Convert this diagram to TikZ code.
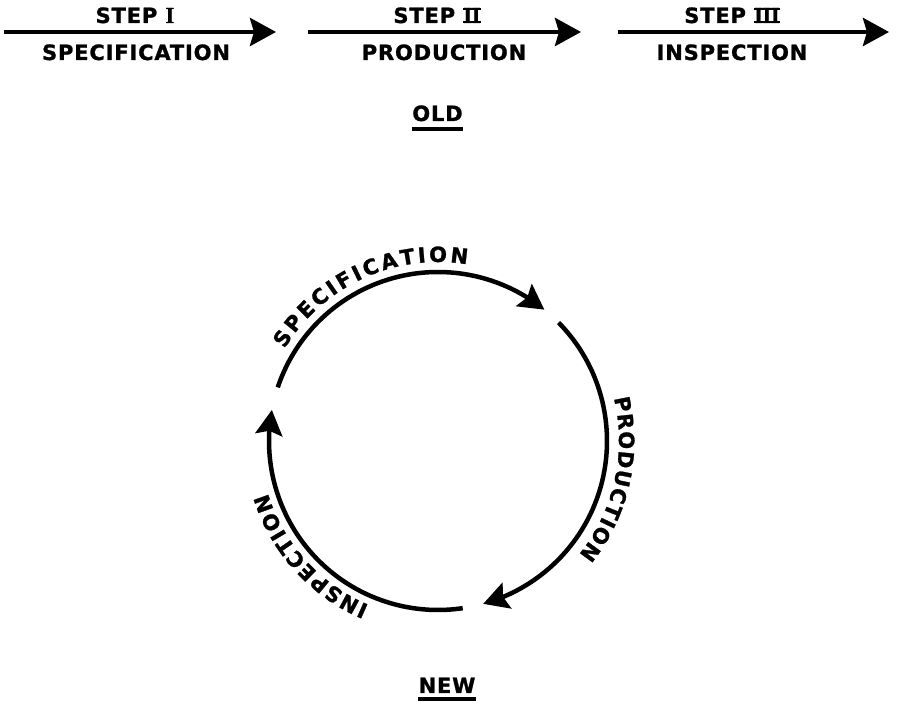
\documentclass[tikz,border=0pt]{standalone}
\usepackage{fontspec}
\usetikzlibrary{arrows.meta,bending,decorations.text}
\newfontfamily\lettering{DejaVu Sans}[LetterSpace=4, BoldFeatures={FakeBold=1.2}]
\newfontfamily\arcfont{DejaVu Sans}[BoldFeatures={FakeBold=1.2}]
\newfontfamily\numfont{Liberation Serif}[BoldFeatures={FakeBold=1}]
\newcommand\romnum[1]{\begingroup\setbox0=\hbox{\numfont\bfseries\fontsize{23}{23}\selectfont #1}%
\rlap{\rule{\wd0}{2pt}}\rlap{\raisebox{\dimexpr\ht0-2pt\relax}{\rule{\wd0}{2pt}}}\box0\endgroup}
\newcommand\romone{{\numfont\bfseries\fontsize{23}{23}\selectfont I}}
\begin{document}
\begin{tikzpicture}[x=1pt,y=1pt,
  lbl/.style={font=\lettering\bfseries\fontsize{21}{21}\selectfont, inner sep=0pt, anchor=base},
  flow/.style={line width=4.5pt, -{Stealth[length=26pt,width=28pt,inset=4pt]}},
  cyc/.style={line width=4.5pt, -{Stealth[length=25pt,width=27pt,inset=4pt]}},
  arclbl/.style={decorate, decoration={text along path, text align={fit to path},
     text={|\arcfont\bfseries\fontsize{21}{21}\selectfont|#1}}},
  uline/.style={line width=4pt}
]
\useasboundingbox (0,0) rectangle (900,706);
% ---- OLD: linear flow ----
\coordinate (a1s) at (4,674);   \coordinate (a1e) at (276,674);
\coordinate (a2s) at (308,674); \coordinate (a2e) at (581,674);
\coordinate (a3s) at (618,674); \coordinate (a3e) at (889,674);
\draw[flow] (a1s) -- (a1e);
\draw[flow] (a2s) -- (a2e);
\draw[flow] (a3s) -- (a3e);
\node[lbl] (st1) at (135,683) {STEP \romone};
\node[lbl] (sp1) at (136,646) {SPECIFICATION};
\node[lbl] (st2) at (437,683) {STEP \romnum{I\kern-0.6pt I}};
\node[lbl] (sp2) at (444,646) {PRODUCTION};
\node[lbl] (st3) at (732,683) {STEP \romnum{I\kern-0.6pt I\kern-0.6pt I}};
\node[lbl] (sp3) at (732,646) {INSPECTION};
\node[lbl] (old) at (437.5,585) {OLD};
\draw[uline] ([yshift=-7.7pt]old.base west) -- ([yshift=-7.7pt]old.base east);
% ---- NEW: cycle ----
\coordinate (C) at (438,265);
\draw[cyc, shift={(C)}] (161.5:169) arc[start angle=161.5, end angle=51, radius=169];
\draw[cyc, shift={(C)}] (44.5:169) arc[start angle=44.5, end angle=-74.5, radius=169];
\draw[cyc, shift={(C)}] (-81.6:169) arc[start angle=-81.6, end angle=-190.6, radius=169];
\path[arclbl=SPECIFICATION, shift={(C)}] (149:179) arc[start angle=149, end angle=80.6, radius=179];
\path[arclbl=PRODUCTION, shift={(C)}] (13.7:181) arc[start angle=13.7, end angle=-38.9, radius=181];
\path[arclbl=INSPECTION, shift={(C)}] (-112.8:178) arc[start angle=-112.8, end angle=-163, radius=178];
\node[lbl] (new) at (447,13) {NEW};
\draw[uline] ([yshift=-6pt]new.base west) -- ([yshift=-6pt]new.base east);
\end{tikzpicture}
\end{document}
